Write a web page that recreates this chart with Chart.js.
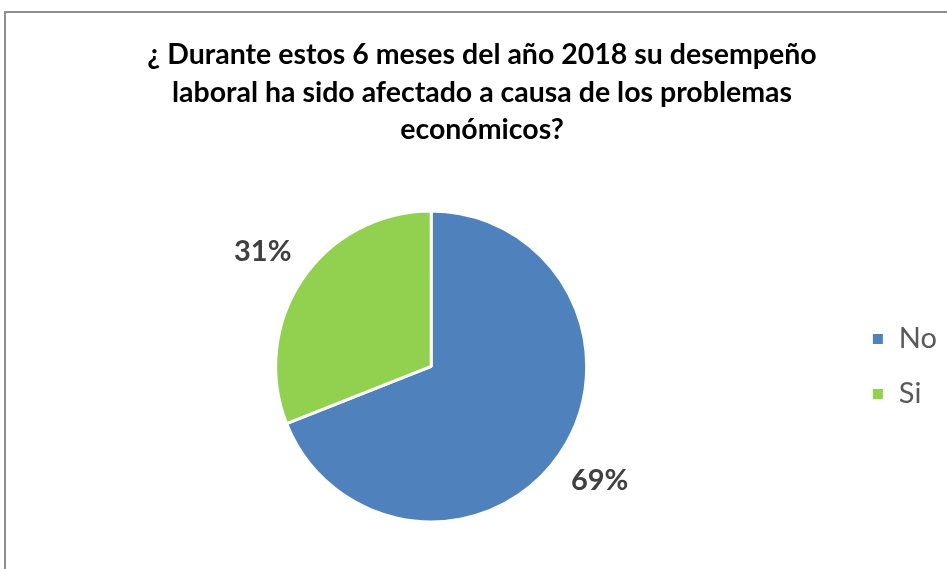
<!DOCTYPE html>
<html>
<head>
<meta charset="utf-8">
<script src="https://cdn.jsdelivr.net/npm/chart.js@4.4.0/dist/chart.umd.min.js"></script>
<style>
  body { margin: 0; background: #fff; }
  #wrap { position: relative; width: 947px; height: 569px; overflow: hidden; }
  #frame { position: absolute; left: 4px; top: 11px; width: 1000px; height: 700px; border: 2px solid #8f8f8f; }
  #pie { position: absolute; left: 0; top: 0; }
</style>
</head>
<body>
<div id="wrap">
  <div id="frame"></div>
  <canvas id="pie" width="947" height="569"></canvas>
</div>

<script type="text/javascript">

const titleLines = [
  '¿ Durante estos 6 meses del año 2018 su desempeño',
  'laboral ha sido afectado a causa de los problemas',
  'económicos?'
];
const categories = ['No', 'Si'];
const percents = [69, 31];
const colors = ['#4F81BD', '#92D050'];

// percent labels outside each slice, placed along the slice's middle angle
const outsideLabels = {
  id: 'outsideLabels',
  afterDatasetsDraw(chart) {
    const ctx = chart.ctx;
    const meta = chart.getDatasetMeta(0);
    ctx.save();
    ctx.font = 'bold 29px Lato';
    ctx.fillStyle = '#404040';
    ctx.textAlign = 'center';
    ctx.textBaseline = 'middle';
    meta.data.forEach((arc, i) => {
      const p = arc.getProps(['x', 'y', 'startAngle', 'endAngle', 'outerRadius'], true);
      const mid = (p.startAngle + p.endAngle) / 2;
      const dist = p.outerRadius * 1.31;
      ctx.fillText(percents[i] + '%', p.x + Math.cos(mid) * dist, p.y + Math.sin(mid) * dist);
    });
    ctx.restore();
  }
};

const ctxPie = document.getElementById('pie').getContext('2d');

new Chart(ctxPie, {
  type: 'pie',
  data: {
    labels: categories,
    datasets: [{
      data: percents,
      backgroundColor: colors,
      borderColor: '#ffffff',
      borderWidth: 3,
      radius: 155.5,
      hoverOffset: 0
    }]
  },
  options: {
    responsive: false,
    animation: false,
    events: [],
    layout: { padding: { left: 17, right: 0, top: 0, bottom: 37 } },
    plugins: {
      title: {
        display: true,
        text: titleLines,
        color: '#000000',
        font: { family: 'Lato', size: 28.5, weight: 'bold', lineHeight: 1.32 },
        padding: { top: 36, bottom: 52 }
      },
      legend: {
        display: true,
        position: 'right',
        fullSize: false,
        labels: {
          boxWidth: 13,
          boxHeight: 13,
          padding: 26,
          color: '#595959',
          font: { family: 'Lato', size: 29 }
        }
      },
      tooltip: { enabled: false }
    }
  },
  plugins: [outsideLabels]
});
</script>
</body>
</html>
